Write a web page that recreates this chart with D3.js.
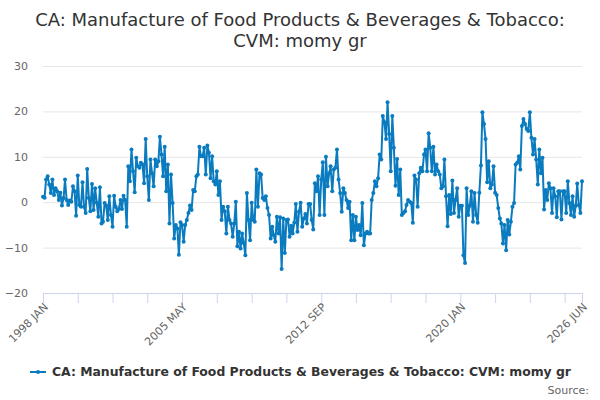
<!DOCTYPE html>
<html>
<head>
<meta charset="utf-8">
<script src="https://cdn.jsdelivr.net/npm/d3@7"></script>
<style>
  body { margin: 0; background: #fff; }
  svg { font-family: "DejaVu Sans", sans-serif; }
</style>
</head>
<body>
<script>
// Monthly series, 1998 JAN .. 2026 JUN (% y/y)
const startYear = 1998;
const startMonth = 0;
const values = [
  1.2, 1.0, 5, 5.7, 3.9, 2, 5, 1.6, 3.1, 2.4, 0.5, 2.1, -0.7, 0.9, 5, 0.5, -0.6, 0.4, 0.1, 3.5,
  2.4, -3, 5.9, -0.6, -1, 4.4, -1, -2.4, 7.3, 0.9, -2, 4, -1.7, 3.1, -0.1, -3.2, 3.3, -4.7, -4.3, -0.2,
  -0.7, -3.9, 1.3, -2.8, -5.4, 1.4, -1, -2, -1.5, 0.5, -1.5, 1.4, 0.5, -5.4, 7.9, 4.6, 11.6, 6.8, 2.2, 9.8,
  7.9, 7.6, 8.7, 8.3, 4.2, 13.9, 5.7, 0.5, 9.4, 6.4, 3.5, 9.4, 7.9, 9, 14.4, 10.5, 5.7, 12.2, 2.4, 8.3,
  -4.7, 6.1, -0.2, -8, -5, -5.8, -11.6, -4.4, -5, -8.7, -5, -3.9, -2.4, -0.7, -1.7, 2.7, 2.4, 5.7, 6.1, 12.2,
  10.1, 10.1, 12, 6.1, 12.5, 10.9, 5.3, 10.1, 4.6, 3.9, 6.8, 1.6, 4.6, -3.9, -1, -2, -6.9, -1, -3.9, -4.7,
  -7.6, -4.7, 0.1, -9.7, -6.5, -10.2, -6.9, -9, -11.7, 2, -3.9, -8.4, -0.1, -3.9, -4.3, 7.2, -1, 6.4, 6.1, 0.9,
  0.5, 1.3, -1.3, -2.8, -8, -5.4, -7.3, -8.7, -3.2, -6.9, -3.3, -14.7, -3.6, -11.2, -3.9, -3.8, -7.6, -5.2, -6.9, -4.5,
  -0.4, -6.5, -2.1, -0.1, -5.4, -3.6, -2.6, -4.7, -0.4, -0.4, -3.9, -6, 4.2, 2.4, 5.7, -2.8, 5, 8.8, -2.8, 10,
  3.5, 6.4, 7.9, 2.4, 7.2, 7.6, 11.6, 5, 2, -2.1, 3.1, 2, 0.5, -1.3, 0.1, -8.4, -2.8, -8.4, -3.2, -6.1,
  -5, -7.3, -0.2, -9.5, -6.9, -6.5, -6.9, -6.9, 0.5, 2, 4.6, 3.5, 5.3, 10.5, 9.4, 19, 17.6, 13.9, 22, 15,
  6.8, 19, 12, 3.6, 9.5, 1.6, 7.2, -2.8, -2.4, -2, -0.6, 0.5, 0.1, -0.2, -4.5, 5.9, 5, -1, 6.4, 7.6,
  6.8, 10.5, 11.6, 6.8, 15.2, 12, 6.8, 12.2, 6.1, 8.3, 6.8, 6.1, 3.1, 3.5, 9.4, 1.3, -5.3, 1.6, -2.6, 4.8,
  -2.4, 0.5, 3.1, -3.2, -0.8, -0.8, -11.7, -13.4, 3.1, -2.8, -0.8, 2.4, -4.3, 2, -2.8, -4.5, 2.1, 8.1, 19.8, 17.2,
  13.9, 4.4, 9, 3.1, 3.9, 7.9, 2.1, 1.6, -1.3, -3.6, -4.7, -9.1, -5, -10.6, -3.9, -7.1, -4.3, -1, -0.2, 8.3,
  8.7, 10.1, 7.2, 16.8, 18.3, 17.2, 16.1, 15.7, 19.8, 14.2, 10.5, 13.9, 9.4, 3.9, 11.6, 6.4, 9.8, -1.6, 2.7, 0.5,
  4.2, 3.1, -2.4, 3.1, 1.3, -3.3, 2.4, 2.4, -3.8, 2.4, 2.4, -2.4, 4.6, -0.2, -2.8, 1.3, -3.2, -0.8, 4.1, -0.6,
  -2.4, 4.6
];

const yTicks = [-20, -10, 0, 10, 20, 30];
const xTickStep = 22; // months between axis ticks
const labelMonths = [0, 88, 176, 264, 341];
const labelTexts = ["1998 JAN", "2005 MAY", "2012 SEP", "2020 JAN", "2026 JUN"];

const titleLines = ["CA: Manufacture of Food Products & Beverages & Tobacco:", "CVM: momy gr"];
const seriesName = "CA: Manufacture of Food Products & Beverages & Tobacco: CVM: momy gr";

const width = 600, height = 400;
const margin = { top: 66, right: 18, bottom: 107, left: 43 };
const lineColor = "#0a7bbf";

const data = values.map((v, i) => ({ date: new Date(startYear, startMonth + i, 1), value: v }));
const monthDate = m => new Date(startYear, startMonth + m, 1);

const svg = d3.select("body").append("svg")
  .attr("width", width)
  .attr("height", height);

const x = d3.scaleTime()
  .domain([data[0].date, data[data.length - 1].date])
  .range([margin.left, width - margin.right]);

const y = d3.scaleLinear()
  .domain([-20, 30])
  .range([height - margin.bottom, margin.top]);

// Title
svg.append("text")
  .attr("x", width / 2)
  .attr("y", 26)
  .attr("text-anchor", "middle")
  .style("font-size", "18px")
  .style("fill", "#333")
  .selectAll("tspan")
  .data(titleLines)
  .enter().append("tspan")
  .attr("x", width / 2)
  .attr("dy", (d, i) => i === 0 ? 0 : 21)
  .text(d => d);

// Grid + y labels
const yAxis = svg.append("g")
  .attr("transform", `translate(${margin.left},0)`)
  .call(d3.axisLeft(y).tickValues(yTicks).tickSize(-(width - margin.left - margin.right)).tickPadding(15));
yAxis.select(".domain").remove();
yAxis.selectAll(".tick line").attr("stroke", "#e6e6e6");
yAxis.selectAll(".tick text")
  .style("font-size", "11px")
  .style("fill", "#666")
  .attr("font-family", "DejaVu Sans, sans-serif");

// X axis
const tickDates = d3.range(0, values.length, xTickStep).map(monthDate).concat([monthDate(values.length - 1)]);
const xAxis = svg.append("g")
  .attr("transform", `translate(0,${height - margin.bottom})`)
  .call(d3.axisBottom(x).tickValues(tickDates).tickSize(10).tickFormat(""));
xAxis.select(".domain").attr("stroke", "#ccd6eb");
xAxis.selectAll(".tick line").attr("stroke", "#ccd6eb");

svg.append("g").selectAll("text")
  .data(labelMonths)
  .enter().append("text")
  .attr("transform", m => `translate(${x(monthDate(m)) + 3},${height - margin.bottom + 12}) rotate(-45)`)
  .attr("text-anchor", "end")
  .attr("dy", "0.35em")
  .style("font-size", "11px")
  .style("fill", "#666")
  .text((m, i) => labelTexts[i]);

// Series line
const line = d3.line()
  .x(d => x(d.date))
  .y(d => y(d.value));

svg.append("path")
  .datum(data)
  .attr("fill", "none")
  .attr("stroke", lineColor)
  .attr("stroke-width", 2)
  .attr("stroke-linejoin", "round")
  .attr("d", line);

svg.append("g").selectAll("circle")
  .data(data)
  .enter().append("circle")
  .attr("cx", d => x(d.date))
  .attr("cy", d => y(d.value))
  .attr("r", 2)
  .attr("fill", lineColor);

// Legend
const legend = svg.append("g").attr("transform", "translate(30,372)");
legend.append("line")
  .attr("x1", 0).attr("x2", 16)
  .attr("y1", 0).attr("y2", 0)
  .attr("stroke", lineColor)
  .attr("stroke-width", 2);
legend.append("circle")
  .attr("cx", 8).attr("cy", 0).attr("r", 2)
  .attr("fill", lineColor);
legend.append("text")
  .attr("x", 22)
  .attr("y", 0)
  .attr("dy", "0.35em")
  .style("font-size", "12.4px")
  .style("font-weight", "bold")
  .style("fill", "#333")
  .text(seriesName);

svg.append("text")
  .attr("x", 589)
  .attr("y", 394)
  .attr("text-anchor", "end")
  .style("font-size", "11px")
  .style("fill", "#666")
  .text("Source:");
</script>
</body>
</html>
